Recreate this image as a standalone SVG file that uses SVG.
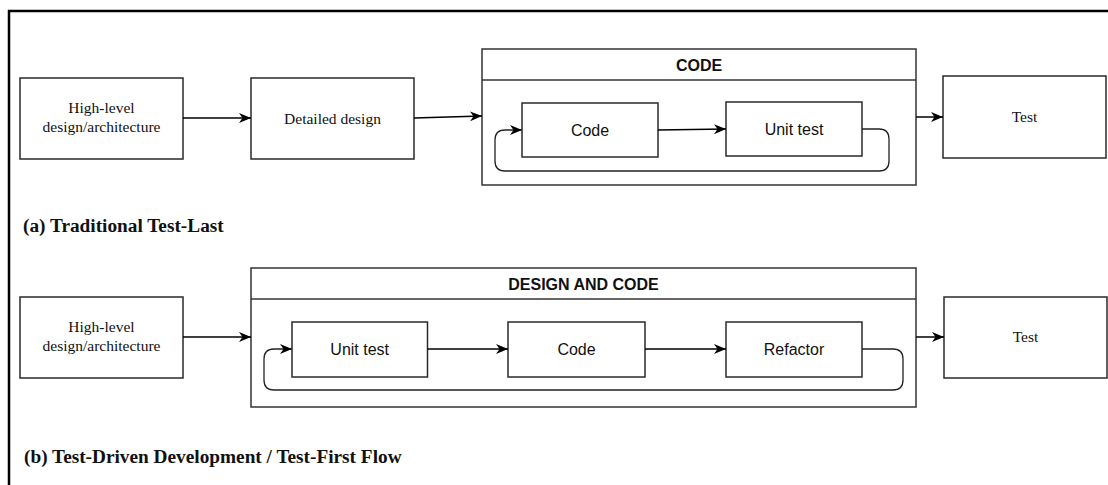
<svg xmlns="http://www.w3.org/2000/svg" width="1108" height="485" viewBox="0 0 1108 485">
<defs>
<marker id="arr" markerUnits="userSpaceOnUse" markerWidth="13" markerHeight="11" refX="12" refY="5" orient="auto">
<path d="M0,0 L12,5 L0,10 L3.5,5 Z" fill="#000"/>
</marker>
<style>
.box{fill:#fff;stroke:#2a2a2a;stroke-width:1.5}
.cont{fill:#fff;stroke:#333;stroke-width:1.5}
.serif{font-family:"Liberation Serif","Times New Roman",serif;font-size:15.5px;fill:#111;text-anchor:middle}
.sans{font-family:"Liberation Sans",Arial,sans-serif;font-size:16px;fill:#111;text-anchor:middle}
.hdr{font-family:"Liberation Sans",Arial,sans-serif;font-size:16px;font-weight:bold;fill:#111;text-anchor:middle}
.cap{font-family:"Liberation Serif","Times New Roman",serif;font-size:19.3px;font-weight:bold;fill:#111}
.edge{fill:none;stroke:#000;stroke-width:1.5;marker-end:url(#arr)}
.loop{fill:none;stroke:#222;stroke-width:1.3;marker-end:url(#arr)}
</style>
</defs>
<rect width="1108" height="485" fill="#fff"/>
<path d="M9,485 V11 H1108" fill="none" stroke="#000" stroke-width="2.5"/>

<g id="a-highlevel">
<rect class="box" x="20" y="78" width="163" height="81"/>
<text class="serif" x="101.5" y="113">High-level</text>
<text class="serif" x="101.5" y="132">design/architecture</text>
</g>
<g id="a-detailed">
<rect class="box" x="251" y="78" width="163" height="81"/>
<text class="serif" x="332.5" y="123.5">Detailed design</text>
</g>
<g id="a-code-container">
<rect class="cont" x="482" y="49" width="434" height="136"/>
<line x1="482" y1="80" x2="916" y2="80" stroke="#333" stroke-width="1.5"/>
<text class="hdr" x="699" y="70.5">CODE</text>
</g>
<g id="a-code">
<rect class="box" x="522" y="103" width="136" height="54"/>
<text class="sans" x="590" y="136">Code</text>
</g>
<g id="a-unittest">
<rect class="box" x="726" y="102" width="136" height="54"/>
<text class="sans" x="794" y="134.5">Unit test</text>
</g>
<g id="a-test">
<rect class="box" x="943" y="76" width="163" height="82"/>
<text class="serif" x="1024.5" y="122">Test</text>
</g>
<text class="cap" x="23" y="232">(a) Traditional Test-Last</text>

<g id="b-highlevel">
<rect class="box" x="20" y="297" width="163" height="81"/>
<text class="serif" x="101.5" y="332">High-level</text>
<text class="serif" x="101.5" y="351">design/architecture</text>
</g>
<g id="b-designcode-container">
<rect class="cont" x="251" y="268" width="665" height="139"/>
<line x1="251" y1="299" x2="916" y2="299" stroke="#333" stroke-width="1.5"/>
<text class="hdr" x="583.5" y="289.5">DESIGN AND CODE</text>
</g>
<g id="b-unittest">
<rect class="box" x="292" y="322" width="135.5" height="55"/>
<text class="sans" x="359.7" y="355">Unit test</text>
</g>
<g id="b-code">
<rect class="box" x="508" y="322" width="137" height="55"/>
<text class="sans" x="576.5" y="355">Code</text>
</g>
<g id="b-refactor">
<rect class="box" x="726" y="322" width="136" height="55"/>
<text class="sans" x="794" y="355">Refactor</text>
</g>
<g id="b-test">
<rect class="box" x="944" y="297" width="163" height="81"/>
<text class="serif" x="1025.5" y="342">Test</text>
</g>
<text class="cap" x="24" y="463">(b) Test-Driven Development / Test-First Flow</text>

<g id="connectors">
<line class="edge" x1="183" y1="118" x2="251" y2="118"/>
<line class="edge" x1="414" y1="118" x2="482" y2="116"/>
<line class="edge" x1="658" y1="130" x2="726" y2="129"/>
<line class="edge" x1="916" y1="117" x2="943" y2="117"/>
<path class="loop" d="M862,129 H879 Q889,129 889,139 V161 Q889,171 879,171 H505 Q495,171 495,161 V140 Q495,130 505,130 H522"/>
<line class="edge" x1="183" y1="337" x2="251" y2="337"/>
<line class="edge" x1="427.5" y1="349" x2="508" y2="349"/>
<line class="edge" x1="645" y1="349" x2="726" y2="349"/>
<line class="edge" x1="916" y1="337" x2="944" y2="337"/>
<path class="loop" d="M862,349 H893 Q903,349 903,359 V380 Q903,390 893,390 H274 Q264,390 264,380 V359 Q264,349 274,349 H292"/>
</g>
</svg>
